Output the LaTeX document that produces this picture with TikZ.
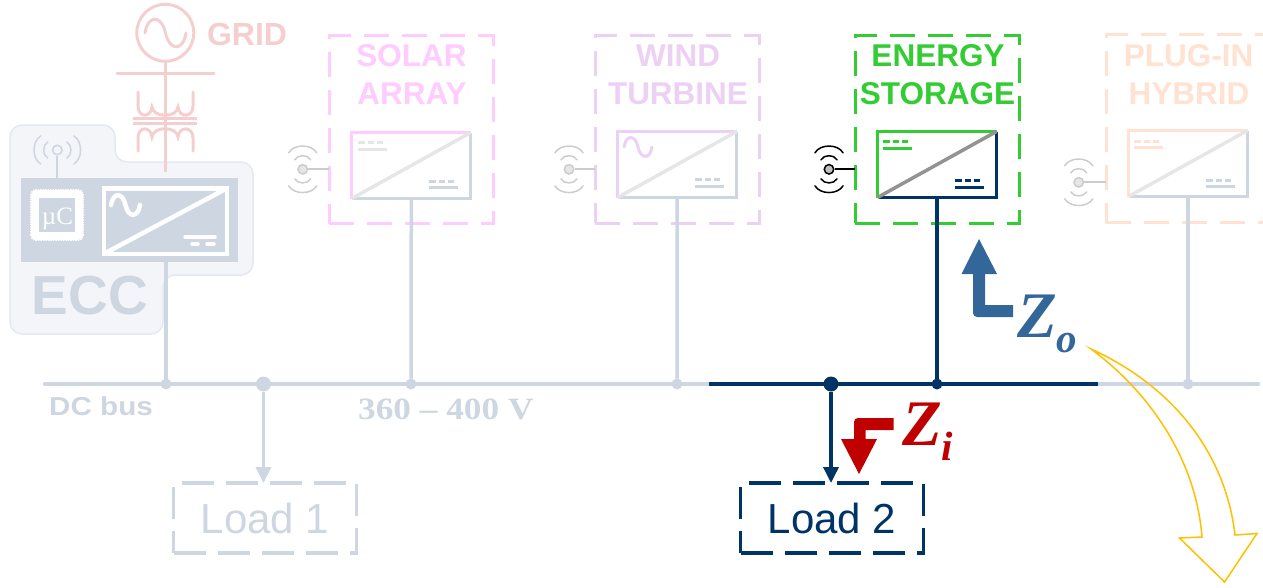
\documentclass[tikz,border=0pt]{standalone}
\usepackage{fontspec}
\usepackage{tikz}
\usetikzlibrary{arrows.meta}
\setmainfont{Liberation Sans}
\newfontfamily\serifface{Liberation Serif}
\definecolor{busgray}{HTML}{CDD6E1}
\definecolor{eccfill}{HTML}{F3F5F9}
\definecolor{eccedge}{HTML}{E3E9F2}
\definecolor{gridpink}{HTML}{F5CFCF}
\definecolor{solarpink}{HTML}{FFCCFF}
\definecolor{windlilac}{HTML}{EDD1F5}
\definecolor{storegreen}{HTML}{33CC33}
\definecolor{plugpeach}{HTML}{FFE2D2}
\definecolor{navy}{HTML}{003366}
\definecolor{zoblue}{HTML}{336699}
\definecolor{zired}{HTML}{C00000}
\definecolor{callout}{HTML}{FFC000}
\definecolor{fadegray}{HTML}{CCCCCC}
\definecolor{diaggray}{HTML}{E6E6E6}
\newcommand{\dcmark}[2]{
    \draw[#2, line width=3pt] (#1) -- ++(6.5,0);
    \draw[#2, line width=3pt] (#1) ++(9.5,0) -- ++(6,0);
    \draw[#2, line width=3pt] (#1) ++(18.5,0) -- ++(6,0);
    \draw[#2, line width=3pt] (#1) ++(0,6.5) -- ++(28.5,0);
}
\newcommand{\acwave}[3]{
    \begin{scope}[shift={(#1)}, scale=#2]
        \draw[#3, line cap=round] (0,0) .. controls (0.07,-0.45) and (0.4,-0.45) .. (0.5,0)
            .. controls (0.6,0.45) and (0.93,0.45) .. (1,0);
    \end{scope}
}
\newcommand{\convbox}[5]{
    \node[convshape] (#1) at (#2) {};
    \draw[#3, line width=3pt] (#1.south west) -- (#1.north west) -- (#1.north east);
    \draw[#4, line width=3pt] (#1.north east) -- (#1.south east) -- (#1.south west);
    \draw[#5, line width=3.5pt] (#1.south west) -- (#1.north east);
}
\newcommand{\antenna}[3]{
    \node[circle, draw=#2, fill=#3, line width=1.5pt, minimum size=9.5pt, inner sep=0pt] (#1) at (0,0) {};
    \draw[#2, line width=1.5pt, line cap=round] (-14,-16.5) .. controls (-9,-25.5) and (9,-25.5) .. (14,-16.5);
    \draw[#2, line width=1.5pt, line cap=round] (-8,-9.5) .. controls (-5,-15) and (5,-15) .. (8,-9.5);
    \draw[#2, line width=1.5pt, line cap=round] (-14,16.5) .. controls (-9,25.5) and (9,25.5) .. (14,16.5);
    \draw[#2, line width=1.5pt, line cap=round] (-8,9.5) .. controls (-5,15) and (5,15) .. (8,9.5);
}
\begin{document}
\begin{tikzpicture}[x=1pt, y=-1pt,
    convshape/.style={minimum width=119pt, minimum height=66pt, inner sep=0pt, outer sep=0pt},
    groupbox/.style={draw=#1, line width=3pt, dash pattern=on 25pt off 13pt, minimum width=164pt, minimum height=188pt, inner sep=0pt, outer sep=0pt},
    loadbox/.style={draw=#1, text=#1, line width=3.5pt, dash pattern=on 32pt off 12pt, minimum width=183pt, minimum height=70pt, inner sep=0pt, outer sep=0pt, font=\fontsize{42}{42}\selectfont},
    grouplabel/.style={text=#1, anchor=base, inner sep=0pt, font=\fontsize{31.5}{31.5}\selectfont\bfseries},
    busdot/.style={circle, fill=#1, minimum size=11pt, inner sep=0pt, outer sep=0pt},
    bigdot/.style={circle, fill=#1, minimum size=15pt, inner sep=0pt, outer sep=0pt},
    busline/.style={draw=#1, line width=3.5pt},
    feedline/.style={draw=#1, line width=3.5pt, -{Triangle[width=15pt,length=16pt]}},
    zlabel/.style={text=#1, anchor=base west, inner sep=0pt, font=\serifface\fontsize{65}{65}\selectfont\bfseries\itshape}]
    \clip (0,0) rectangle (1263,587);

    \draw[fill=eccfill, draw=eccedge, line width=1.5pt, rounded corners=12pt]
        (10,125) -- (115,125) -- (115,162) -- (253,162) -- (253,275) -- (163,275) -- (163,334) -- (10,334) -- cycle;
    \node[fill=busgray, minimum width=217pt, minimum height=84pt, inner sep=0pt, outer sep=0pt] (eccpanel) at (129.8,219.7) {};
    \node[text=busgray, anchor=base, inner sep=0pt, font=\fontsize{55}{55}\selectfont\bfseries] (ecclabel) at (90,314) {ECC};

    \begin{scope}[shift={(57.3,150)}, rotate=90]
        \antenna{eccant}{busgray}{eccfill}
    \end{scope}
    \coordinate (eccanttail) at (57.3,177.7);
    \draw[busgray, line width=2pt] (eccant) -- (eccanttail);

    \node[fill=white, rounded corners=5pt, minimum width=52pt, minimum height=50pt, inner sep=0pt] (chip) at (57,215) {};
    \draw[white, line width=1.5pt, densely dotted, rounded corners=5pt] (chip.south west) rectangle (chip.north east);
    \node[fill=busgray, minimum width=36pt, minimum height=34pt, inner sep=0pt] (chipcore) at (57,215) {};
    \node[text=white, anchor=base, inner sep=0pt, font=\serifface\fontsize{25}{25}\selectfont] (chiplabel) at (57.5,224) {µC};

    \node[minimum width=123pt, minimum height=65.5pt, inner sep=0pt, outer sep=0pt, draw=white, line width=4.5pt] (eccconv) at (165.5,221) {};
    \draw[white, line width=4.5pt] (eccconv.south west) -- (eccconv.north east);
    \acwave{111,205}{29}{white, line width=4.5pt}
    \draw[white, line width=3.5pt, line cap=round] (185,237) -- (215,237);
    \draw[white, line width=3.5pt, line cap=round] (192,244) -- (198,244);
    \draw[white, line width=3.5pt, line cap=round] (207,244) -- (214,244);

    \node[circle, draw=gridpink, line width=3pt, minimum size=57pt, inner sep=0pt, outer sep=0pt] (gridsrc) at (165.3,32.8) {};
    \acwave{145,33}{41}{gridpink, line width=3pt}
    \node[text=gridpink, anchor=base, inner sep=0pt, font=\fontsize{32}{32}\selectfont\bfseries] (gridlabel) at (247,45) {GRID};
    \coordinate (gridstop) at (165.3,172);
    \coordinate (gridbarleft) at (117,73);
    \coordinate (gridbarright) at (214,73);
    \draw[gridpink, line width=3pt] (gridsrc) -- (gridstop);
    \draw[gridpink, line width=3pt, line cap=round] (gridbarleft) -- (gridbarright);
    \draw[gridpink, line width=3pt, line cap=round] (138,92) -- (138,106) .. controls (138,118) and (151,118) .. (152,107)
        .. controls (153,118) and (177,118) .. (178,107) .. controls (179,118) and (193,118) .. (193,106) -- (193,92);
    \draw[gridpink, line width=3pt, line cap=round] (138,151) -- (138,138) .. controls (138,126) and (151,126) .. (152,137)
        .. controls (153,126) and (177,126) .. (178,137) .. controls (179,126) and (193,126) .. (193,138) -- (193,151);
    \draw[gridpink, line width=2.5pt] (133,118.5) -- (197,118.5);
    \draw[gridpink, line width=2.5pt] (133,123.5) -- (197,123.5);

    \coordinate (busleft) at (45,384);
    \coordinate (busright) at (1258,384);
    \coordinate (navyleft) at (709,384);
    \coordinate (navyright) at (1098,384);
    \draw[busgray, line width=4.5pt, line cap=round] (busleft) -- (busright);
    \draw[navy, line width=4.5pt] (navyleft) -- (navyright);

    \node[busdot=busgray] (eccjoin) at (166,384) {};
    \node[bigdot=busgray] (load1join) at (263.5,384) {};
    \node[busdot=busgray] (solarjoin) at (411,384) {};
    \node[busdot=busgray] (windjoin) at (677,384) {};
    \node[bigdot=navy] (load2join) at (831,384) {};
    \node[busdot=navy] (storejoin) at (937,384) {};
    \node[busdot=busgray] (plugjoin) at (1188,384) {};
    \draw[busline=busgray] (eccjoin |- eccpanel.south) -- (eccjoin);

    \node[groupbox=solarpink] (solarbox) at (411,129.7) {};
    \node[grouplabel=solarpink] (solartop) at (411.5,66) {SOLAR};
    \node[grouplabel=solarpink] (solarbot) at (412,104) {ARRAY};
    \convbox{solarconv}{411.3,165.5}{solarpink}{busgray}{diaggray}
    \dcmark{358,142.5}{diaggray}
    \dcmark{429,181}{busgray}
    \begin{scope}[shift={(302.7,169.3)}]
        \antenna{solarant}{fadegray}{diaggray}
    \end{scope}
    \draw[fadegray, line width=2pt] (solarant) -- (solarbox.west |- solarant);
    \draw[busline=busgray] (solarconv.south) -- (solarjoin);

    \node[groupbox=windlilac] (windbox) at (677,129) {};
    \node[grouplabel=windlilac] (windtop) at (678,66) {WIND};
    \node[grouplabel=windlilac] (windbot) at (678,104) {TURBINE};
    \convbox{windconv}{677.2,164.5}{windlilac}{busgray}{diaggray}
    \acwave{624,147}{28}{windlilac, line width=3pt}
    \dcmark{695,179.5}{busgray}
    \begin{scope}[shift={(569,169.3)}]
        \antenna{windant}{fadegray}{diaggray}
    \end{scope}
    \draw[fadegray, line width=2pt] (windant) -- (windbox.west |- windant);
    \draw[busline=busgray] (windconv.south) -- (windjoin);

    \node[groupbox=storegreen] (storebox) at (937,129) {};
    \node[grouplabel=storegreen] (storetop) at (938,66) {ENERGY};
    \node[grouplabel=storegreen] (storebot) at (937.5,104) {STORAGE};
    \convbox{storeconv}{937,164.5}{storegreen}{navy}{gray!85}
    \dcmark{883,141.5}{storegreen}
    \dcmark{955,180.5}{navy}
    \begin{scope}[shift={(829,169.3)}]
        \antenna{storeant}{black}{gray!50}
    \end{scope}
    \draw[black, line width=2pt] (storeant) -- (storebox.west |- storeant);
    \draw[busline=navy] (storeconv.south) -- (storejoin);

    \node[groupbox=plugpeach] (plugbox) at (1188,128.5) {};
    \node[grouplabel=plugpeach] (plugtop) at (1188.5,66) {PLUG-IN};
    \node[grouplabel=plugpeach] (plugbot) at (1189,104) {HYBRID};
    \convbox{plugconv}{1188,163.5}{plugpeach}{busgray}{diaggray}
    \dcmark{1134,141}{plugpeach}
    \dcmark{1206,180}{busgray}
    \begin{scope}[shift={(1078.7,182.3)}]
        \antenna{plugant}{fadegray}{diaggray}
    \end{scope}
    \draw[fadegray, line width=2pt] (plugant) -- (plugbox.west |- plugant);
    \draw[busline=busgray] (plugconv.south) -- (plugjoin);

    \node[loadbox=busgray] (load1) at (265,518) {Load 1};
    \node[loadbox=navy] (load2) at (832,518) {Load 2};
    \draw[feedline=busgray] (load1join) -- (load1join |- load1.north);
    \draw[feedline=navy] (load2join) -- (load2join |- load2.north);

    \node[text=busgray, anchor=base west, inner sep=0pt, xscale=1.14, transform shape, font=\fontsize{26}{26}\selectfont\bfseries] (dclabel) at (49,415) {DC bus};
    \node[text=busgray, anchor=base west, inner sep=0pt, xscale=1.137, transform shape, font=\serifface\fontsize{31}{31}\selectfont\bfseries] (voltlabel) at (358,419) {360 – 400 V};

    \fill[zoblue] (973,270) [rounded corners=4pt] -- (973,317) [sharp corners] -- (1013,317) -- (1013,305) -- (985,305) -- (985,270) -- cycle;
    \fill[zoblue] (961.5,274) -- (979,239) -- (997,274) -- cycle;
    \node[zlabel=zoblue] (zolabel) at (1017,337) {Z\raisebox{-15pt}{\fontsize{41}{41}\selectfont o}};

    \fill[zired] (854,443) [rounded corners=4pt] -- (854,418) [sharp corners] -- (893.5,418) -- (893.5,430) -- (865.5,430) -- (865.5,443) -- cycle;
    \fill[zired] (841,439) -- (859,474) -- (877,439) -- cycle;
    \node[zlabel=zired] (zilabel) at (902,445) {Z\raisebox{-15pt}{\fontsize{41}{41}\selectfont i}};

    \draw[callout, line width=1.5pt, line join=miter] (1091,349) .. controls (1170,385) and (1225,450) .. (1235,535)
        -- (1257,533.5) -- (1224.5,582) -- (1179.5,538) -- (1202,537) .. controls (1195,450) and (1140,385) .. cycle;
\end{tikzpicture}
\end{document}
